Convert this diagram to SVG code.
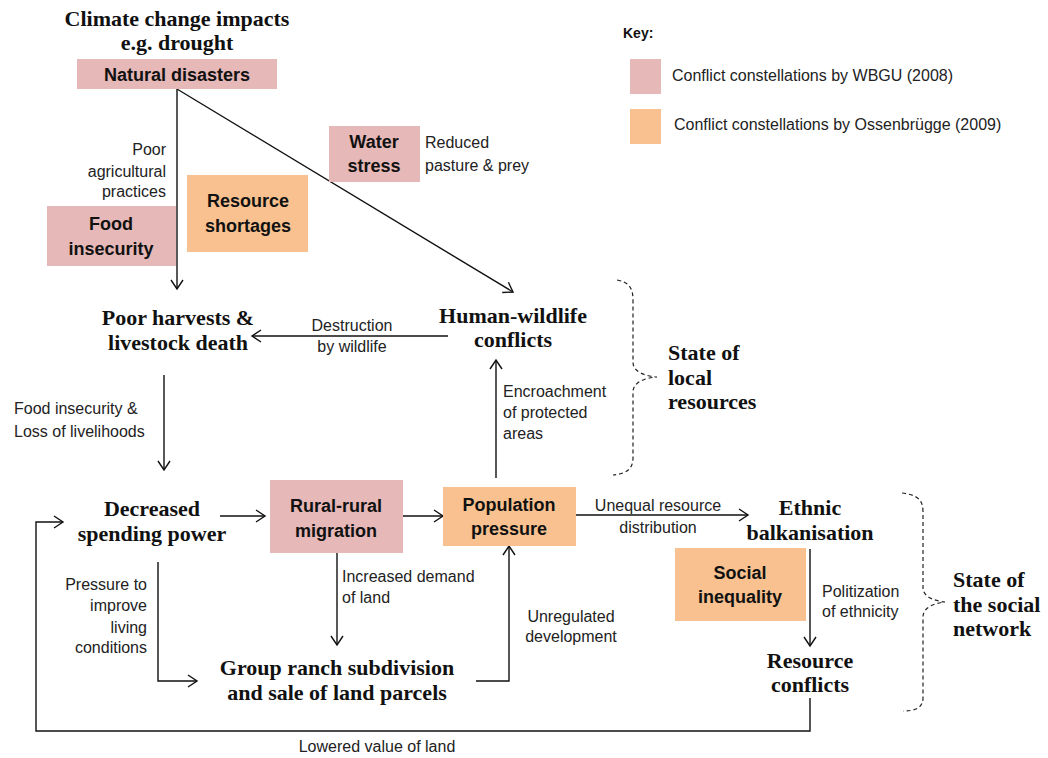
<svg xmlns="http://www.w3.org/2000/svg" width="1048" height="758" viewBox="0 0 1048 758">
<style>
.t{font-family:"Liberation Serif","Times New Roman",serif;font-weight:bold;font-size:22px;fill:#111;text-anchor:middle}
.tl{font-family:"Liberation Serif","Times New Roman",serif;font-weight:bold;font-size:22px;fill:#111}
.b{font-family:"Liberation Sans",Arial,sans-serif;font-weight:bold;font-size:18px;fill:#111;text-anchor:middle}
.l{font-family:"Liberation Sans",Arial,sans-serif;font-size:16px;fill:#222}
.lm{font-family:"Liberation Sans",Arial,sans-serif;font-size:16px;fill:#222;text-anchor:middle}
.le{font-family:"Liberation Sans",Arial,sans-serif;font-size:16px;fill:#222;text-anchor:end}
.pink{fill:#E6B8B7}
.orange{fill:#F9C18F}
.c{fill:none;stroke:#111;stroke-width:1.4}
.br{fill:none;stroke:#222;stroke-width:1.2;stroke-dasharray:4 3}
</style>
<defs>
<marker id="a" markerUnits="userSpaceOnUse" markerWidth="14" markerHeight="14" refX="9" refY="6" orient="auto" overflow="visible">
<path d="M0,0 L9,6 L0,12" fill="none" stroke="#111" stroke-width="1.4"/>
</marker>
</defs>
<rect width="1048" height="758" fill="#fff"/>

<g id="connectors">
<path class="c" d="M177,89 L177,289" marker-end="url(#a)"/>
<path class="c" d="M177,89 L513,292" marker-end="url(#a)"/>
<path class="c" d="M448,336 L252,336" marker-end="url(#a)"/>
<path class="c" d="M164,375 L164,470" marker-end="url(#a)"/>
<path class="c" d="M220,516 L265,516" marker-end="url(#a)"/>
<path class="c" d="M403,516 L443,516" marker-end="url(#a)"/>
<path class="c" d="M496,478 L496,360" marker-end="url(#a)"/>
<path class="c" d="M576,515 L748,515" marker-end="url(#a)"/>
<path class="c" d="M810,549 L810,646" marker-end="url(#a)"/>
<path class="c" d="M810,698 L810,731 L36,731 L36,522 L63,522" marker-end="url(#a)"/>
<path class="c" d="M158,562 L158,681 L197,681" marker-end="url(#a)"/>
<path class="c" d="M337,553 L337,645" marker-end="url(#a)"/>
<path class="c" d="M476,681 L509,681 L509,546" marker-end="url(#a)"/>
</g>

<g id="title">
<text class="t" x="177" y="26">Climate change impacts</text>
<text class="t" x="177" y="50">e.g. drought</text>
</g>
<g id="natural-disasters">
<rect class="pink" x="77" y="59" width="200" height="30"/>
<text class="b" x="177" y="81">Natural disasters</text>
</g>
<g id="food-insecurity">
<rect class="pink" x="47" y="206" width="129" height="60"/>
<text class="b" x="111" y="230">Food</text>
<text class="b" x="111" y="255">insecurity</text>
</g>
<g id="resource-shortages">
<rect class="orange" x="187" y="175" width="121" height="77"/>
<text class="b" x="248" y="207">Resource</text>
<text class="b" x="248" y="232">shortages</text>
</g>
<g id="water-stress">
<rect class="pink" x="329" y="126" width="91" height="56"/>
<text class="b" x="374" y="148">Water</text>
<text class="b" x="374" y="172">stress</text>
</g>
<g id="key">
<text x="623" y="38" style="font-family:'Liberation Sans',Arial,sans-serif;font-weight:bold;font-size:14px;fill:#111">Key:</text>
<rect class="pink" x="630" y="59" width="31" height="35"/>
<text class="l" x="672" y="81">Conflict constellations by WBGU (2008)</text>
<rect class="orange" x="630" y="109" width="31" height="35"/>
<text class="l" x="674" y="130">Conflict constellations by Ossenbrügge (2009)</text>
</g>
<g id="poor-harvests">
<text class="t" x="178" y="325">Poor harvests &amp;</text>
<text class="t" x="178" y="350">livestock death</text>
</g>
<g id="human-wildlife">
<text class="t" x="513" y="323">Human-wildlife</text>
<text class="t" x="513" y="347">conflicts</text>
</g>
<g id="state-local">
<path class="br" d="M617,280 C629,282 633,288 633,300 L633,362 C633,372 645,376 657,377 C645,378 633,382 633,392 L633,458 C633,470 625,474 613,475"/>
<text class="tl" x="668" y="360">State of</text>
<text class="tl" x="668" y="385">local</text>
<text class="tl" x="668" y="409">resources</text>
</g>
<g id="decreased-spending">
<text class="t" x="152" y="516">Decreased</text>
<text class="t" x="152" y="541">spending power</text>
</g>
<g id="rural-migration">
<rect class="pink" x="270" y="480" width="133" height="73"/>
<text class="b" x="336" y="512">Rural-rural</text>
<text class="b" x="336" y="537">migration</text>
</g>
<g id="population-pressure">
<rect class="orange" x="443" y="487" width="133" height="59"/>
<text class="b" x="509" y="511">Population</text>
<text class="b" x="509" y="535">pressure</text>
</g>
<g id="ethnic-balkanisation">
<text class="t" x="810" y="515">Ethnic</text>
<text class="t" x="810" y="540">balkanisation</text>
</g>
<g id="social-inequality">
<rect class="orange" x="675" y="548" width="131" height="73"/>
<text class="b" x="740" y="579">Social</text>
<text class="b" x="740" y="603">inequality</text>
</g>
<g id="resource-conflicts">
<text class="t" x="810" y="668">Resource</text>
<text class="t" x="810" y="692">conflicts</text>
</g>
<g id="group-ranch">
<text class="t" x="337" y="675">Group ranch subdivision</text>
<text class="t" x="337" y="700">and sale of land parcels</text>
</g>
<g id="state-social">
<path class="br" d="M902,493 C918,495 923,500 923,512 L923,588 C923,597 935,601 945,602 C935,603 923,607 923,617 L923,698 C923,708 915,711 903,711"/>
<text class="tl" x="953" y="587">State of</text>
<text class="tl" x="953" y="612">the social</text>
<text class="tl" x="953" y="636">network</text>
</g>

<g id="labels">
<text class="le" x="166" y="155">Poor</text>
<text class="le" x="166" y="177">agricultural</text>
<text class="le" x="166" y="197">practices</text>
<text class="l" x="425" y="148">Reduced</text>
<text class="l" x="425" y="171">pasture &amp; prey</text>
<text class="lm" x="352" y="331">Destruction</text>
<text class="lm" x="352" y="352">by wildlife</text>
<text class="l" x="14" y="414">Food insecurity &amp;</text>
<text class="l" x="14" y="437">Loss of livelihoods</text>
<text class="l" x="503" y="397">Encroachment</text>
<text class="l" x="503" y="418">of protected</text>
<text class="l" x="503" y="439">areas</text>
<text class="lm" x="658" y="511">Unequal resource</text>
<text class="lm" x="658" y="533">distribution</text>
<text class="le" x="147" y="590">Pressure to</text>
<text class="le" x="147" y="611">improve</text>
<text class="le" x="147" y="633">living</text>
<text class="le" x="147" y="653">conditions</text>
<text class="l" x="342" y="582">Increased demand</text>
<text class="l" x="342" y="603">of land</text>
<text class="lm" x="571" y="622">Unregulated</text>
<text class="lm" x="571" y="642">development</text>
<text class="l" x="822" y="597">Politization</text>
<text class="l" x="822" y="617">of ethnicity</text>
<text class="lm" x="377" y="752">Lowered value of land</text>
</g>
</svg>
